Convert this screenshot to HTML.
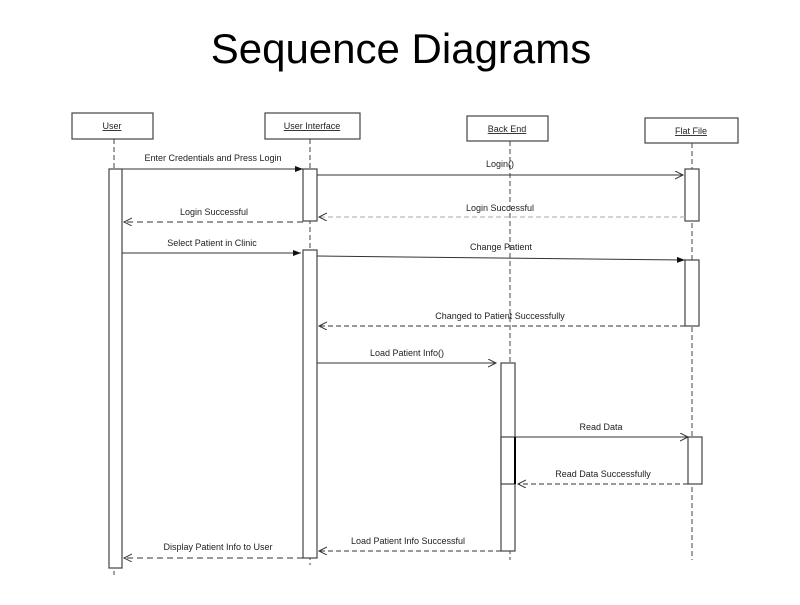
<!DOCTYPE html>
<html><head><style>body{margin:0;background:#fff;}</style></head><body>
<svg width="800" height="600" xmlns="http://www.w3.org/2000/svg" font-family="Liberation Sans, sans-serif">
<defs>
<marker id="o" markerWidth="10" markerHeight="10" refX="8" refY="4" orient="auto" markerUnits="userSpaceOnUse"><path d="M0,0 L8,4 L0,8" fill="none" stroke="#333" stroke-width="1"/></marker>
<marker id="f" markerWidth="10" markerHeight="10" refX="8" refY="4" orient="auto" markerUnits="userSpaceOnUse"><path d="M0,1 L8,4 L0,7 z" fill="#111"/></marker>
</defs>
<text x="401" y="63" font-size="42" text-anchor="middle" fill="#000">Sequence Diagrams</text>
<g fill="#fff" stroke="#444" stroke-width="1.2">
<rect x="72" y="113" width="81" height="26"/>
<rect x="265" y="113" width="95" height="26"/>
<rect x="467" y="116" width="81" height="25"/>
<rect x="645" y="118" width="93" height="25"/>
</g>
<g font-size="9" text-anchor="middle" fill="#222" text-decoration="underline">
<text x="112" y="129">User</text>
<text x="312" y="129">User Interface</text>
<text x="507" y="132">Back End</text>
<text x="691" y="134">Flat File</text>
</g>
<g stroke="#444" stroke-dasharray="5,3" stroke-width="1">
<line x1="114" y1="139" x2="114" y2="575"/>
<line x1="310" y1="139" x2="310" y2="565"/>
<line x1="510" y1="141" x2="510" y2="560"/>
<line x1="692" y1="143" x2="692" y2="560"/>
</g>
<g fill="#fff" stroke="#444" stroke-width="1.2">
<rect x="109" y="169" width="13" height="399"/>
<rect x="303" y="169" width="14" height="52"/>
<rect x="303" y="250" width="14" height="308"/>
<rect x="685" y="169" width="14" height="52"/>
<rect x="685" y="260" width="14" height="66"/>
<rect x="501" y="363" width="14" height="188"/>
<rect x="501" y="437" width="14" height="47"/>
<rect x="688" y="437" width="14" height="47"/>
</g>
<line x1="515" y1="437" x2="515" y2="484" stroke="#000" stroke-width="2"/>
<g stroke="#333" stroke-width="1" fill="none">
<line x1="122" y1="169" x2="303" y2="169" marker-end="url(#f)"/>
<line x1="317" y1="175" x2="683" y2="175" marker-end="url(#o)"/>
<line x1="685" y1="217" x2="319" y2="217" stroke="#aaa" stroke-dasharray="5,3" marker-end="url(#o)"/>
<line x1="303" y1="222" x2="124" y2="222" stroke-dasharray="6,4" marker-end="url(#o)"/>
<line x1="122" y1="253" x2="301" y2="253" marker-end="url(#f)"/>
<line x1="317" y1="256" x2="685" y2="260" marker-end="url(#f)"/>
<line x1="685" y1="326" x2="319" y2="326" stroke-dasharray="5,3" marker-end="url(#o)"/>
<line x1="317" y1="363" x2="496" y2="363" marker-end="url(#o)"/>
<line x1="515" y1="437" x2="688" y2="437" marker-end="url(#o)"/>
<line x1="688" y1="484" x2="518" y2="484" stroke-dasharray="5,3" marker-end="url(#o)"/>
<line x1="501" y1="551" x2="319" y2="551" stroke-dasharray="5,3" marker-end="url(#o)"/>
<line x1="303" y1="558" x2="124" y2="558" stroke-dasharray="6,4" marker-end="url(#o)"/>
</g>
<g font-size="9" text-anchor="middle" fill="#222">
<text x="213" y="161">Enter Credentials and Press Login</text>
<text x="500" y="167">Login()</text>
<text x="500" y="211">Login Successful</text>
<text x="214" y="215">Login Successful</text>
<text x="212" y="246">Select Patient in Clinic</text>
<text x="501" y="250">Change Patient</text>
<text x="500" y="319">Changed to Patient Successfully</text>
<text x="407" y="356">Load Patient Info()</text>
<text x="601" y="430">Read Data</text>
<text x="603" y="477">Read Data Successfully</text>
<text x="408" y="544">Load Patient Info Successful</text>
<text x="218" y="550">Display Patient Info to User</text>
</g>
</svg>
</body></html>
